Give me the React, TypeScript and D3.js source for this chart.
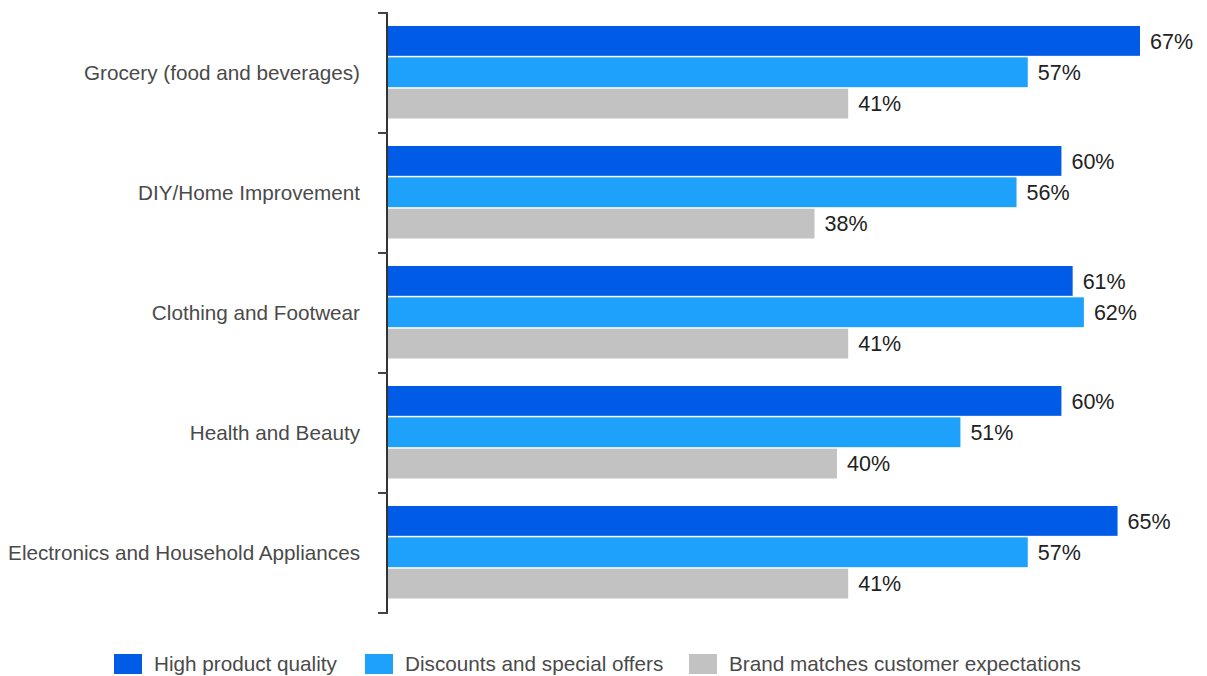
import React from "react";
import * as d3 from "d3";

const categories = [
  "Grocery (food and beverages)",
  "DIY/Home Improvement",
  "Clothing and Footwear",
  "Health and Beauty",
  "Electronics and Household Appliances",
];
const seriesNames = [
  "High product quality",
  "Discounts and special offers",
  "Brand matches customer expectations",
];
const highQuality = [67, 60, 61, 60, 65];
const discounts = [57, 56, 62, 51, 57];
const brandMatch = [41, 38, 41, 40, 41];
const colors = ["#005CE6", "#1DA1FB", "#C2C2C2"];

const W = 1207;
const H = 676;

export default function App() {
  const series = [highQuality, discounts, brandMatch];
  const x = d3.scaleLinear().domain([0, 67]).range([388, 1140]);
  const y = d3.scaleBand<string>().domain(categories).range([13, 613]);
  const inner = d3
    .scaleBand<number>()
    .domain([0, 1, 2])
    .range([13, 107]);
  const font = "'Liberation Sans', Arial, sans-serif";
  const legendX = [114, 365, 689];
  return (
    <svg width={W} height={H} style={{ position: "absolute", left: 0, top: 0 }}>
      <rect width={W} height={H} fill="#fff" />
      {categories.map((c, i) => {
        const y0 = y(c)!;
        return (
          <g key={c}>
            {series.map((s, j) => {
              const by = y0 + inner(j)!;
              const bh = inner.bandwidth() - 1.5;
              return (
                <g key={j}>
                  <rect x={x(0)} y={by} width={x(s[i]) - x(0)} height={bh} fill={colors[j]} />
                  <text
                    x={x(s[i]) + 10}
                    y={by + bh / 2}
                    dy="0.36em"
                    fontSize={21.5}
                    fontFamily={font}
                    fill="#222"
                  >
                    {s[i]}%
                  </text>
                </g>
              );
            })}
            <text
              x={360}
              y={y0 + y.bandwidth() / 2}
              dy="0.36em"
              textAnchor="end"
              fontSize={20.7}
              fontFamily={font}
              fill="#4a4a4a"
            >
              {c}
            </text>
          </g>
        );
      })}
      <line x1={387} x2={387} y1={13} y2={613} stroke="#333" strokeWidth={2} />
      {d3.range(6).map((k) => {
        const ty = 13 + k * y.step();
        return <line key={k} x1={378} x2={388} y1={ty} y2={ty} stroke="#444" strokeWidth={2} />;
      })}
      {seriesNames.map((n, j) => (
        <g key={n}>
          <rect x={legendX[j]} y={654} width={28} height={20} fill={colors[j]} />
          <text x={legendX[j] + 40} y={664} dy="0.36em" fontSize={20.7} fontFamily={font} fill="#4a4a4a">
            {n}
          </text>
        </g>
      ))}
    </svg>
  );
}
